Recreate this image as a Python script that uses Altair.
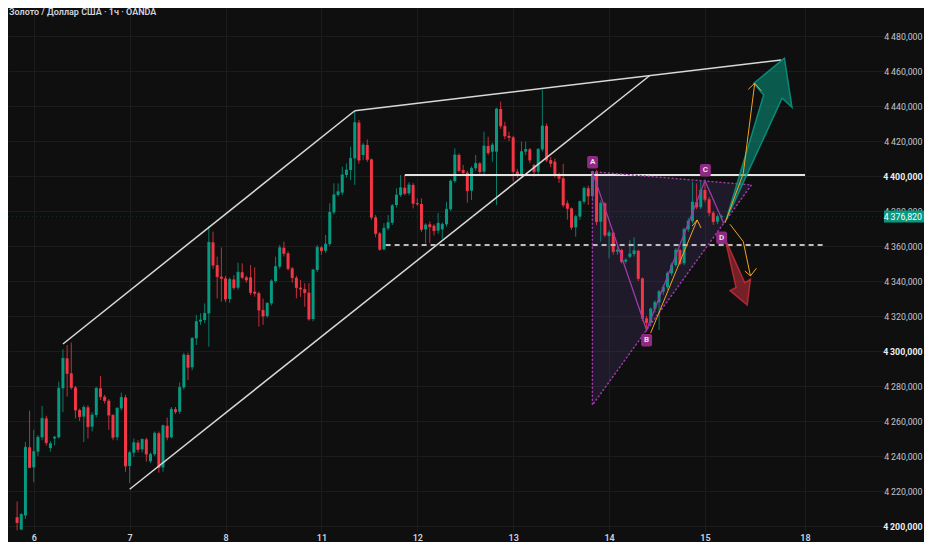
import altair as alt
import pandas as pd

# ---------------- data ----------------
title_text = "Золото / Доллар США · 1ч · OANDA"
day_idx = [0, 23, 46, 69, 92, 115, 138, 161, 185]
day_lbl = ["6", "7", "8", "11", "12", "13", "14", "15", "18"]
price_ticks = [4200, 4220, 4240, 4260, 4280, 4300, 4320, 4340, 4360, 4380,
               4400, 4420, 4440, 4460, 4480]
first_bar = -4

o_ = [4205, 4198, 4206, 4245, 4233.5, 4242.5, 4250.7, 4261.5, 4244.5, 4250,
      4250.7, 4278.7, 4295.8, 4287.2, 4279.2, 4266.3, 4262.5, 4267.8, 4256.8, 4263.4,
      4278.7, 4273.9, 4271.6, 4263.4, 4250.7, 4267.2, 4273.5, 4234.3, 4241.9, 4247.6,
      4243.8, 4249.5, 4237, 4241, 4253, 4233.5, 4257.3, 4250.7, 4266.7, 4265.3,
      4279.2, 4297.7, 4290.7, 4307.2, 4316.8, 4317.7, 4321.5, 4362.1, 4349.1, 4342.5,
      4341.5, 4329.7, 4340.9, 4336.2, 4345, 4342.1, 4342.1, 4333.9, 4333, 4323.4,
      4320, 4327.2, 4340, 4348.2, 4359, 4355.8, 4347.2, 4341.9, 4336.2, 4335.4,
      4333.3, 4318.3, 4346.3, 4359.2, 4357.3, 4361.1, 4379.2, 4389.2, 4390.5, 4400.6,
      4403.4, 4410.1, 4430.5, 4412, 4417.7, 4409.5, 4376.4, 4367.2, 4358.1, 4370.1,
      4373.3, 4383.4, 4389.1, 4393.3, 4390.1, 4394.9, 4384.4, 4384, 4369.5, 4372.4,
      4371.6, 4368.8, 4369.5, 4372.4, 4381, 4397.1, 4412, 4403.4, 4401.9, 4391.6,
      4404.4, 4407.2, 4402.5, 4417.1, 4413.9, 4413.9, 4438.3, 4428.6, 4422.9, 4422.1,
      4402.5, 4400.6, 4413.9, 4415.2, 4406.3, 4402.5, 4415.2, 4428.6, 4409.1, 4408.2,
      4400.6, 4398.7, 4384.4, 4381.5, 4370.7, 4376.8, 4385.3, 4393, 4388.6, 4402.5,
      4373.9, 4384.4, 4365.7, 4367.6, 4356.8, 4357.7, 4351.1, 4353.9, 4355.4, 4357.3,
      4341.5, 4318.7, 4316.2, 4324, 4327.8, 4333.9, 4336.4, 4344.4, 4349.1, 4357.7,
      4350.1, 4369.5, 4374.2, 4385.1, 4382.1, 4392, 4386.7, 4379, 4373.9, 4376.4]
h_ = [4214, 4207.5, 4248, 4266, 4255, 4252, 4268.6, 4263, 4248.5, 4251.5,
      4282.5, 4301, 4303.4, 4304.8, 4280, 4267, 4269, 4269, 4265, 4279.5,
      4285.7, 4275, 4272.5, 4264, 4268, 4276.2, 4275, 4243, 4250, 4249,
      4250, 4250.5, 4242, 4254, 4254, 4258, 4262, 4268, 4268, 4282,
      4299, 4299, 4308, 4320.6, 4321.5, 4327.2, 4371.4, 4368.2, 4353.9, 4359.2,
      4343, 4342, 4343.4, 4350.5, 4350.1, 4343, 4349.1, 4347.8, 4334, 4330,
      4328, 4341, 4353.9, 4360.6, 4362.5, 4357, 4348, 4343, 4340.6, 4338.7,
      4338.7, 4347, 4360.6, 4360, 4366.3, 4384.4, 4395.8, 4395.8, 4405.3, 4407.2,
      4416.8, 4437.3, 4432, 4419, 4420.9, 4410, 4377.7, 4368, 4373, 4377.7,
      4384, 4393, 4400.6, 4400.6, 4396.5, 4396, 4387.2, 4387.2, 4373, 4374,
      4372.5, 4379, 4373.5, 4385.3, 4398, 4415.8, 4413, 4406.3, 4403, 4405.5,
      4412, 4408, 4425.3, 4422.5, 4419, 4439, 4442.5, 4431, 4425.3, 4423,
      4404, 4419.6, 4419.6, 4416, 4407, 4416, 4449.5, 4430, 4411, 4410,
      4402, 4407, 4386, 4382, 4378, 4386, 4394, 4394.5, 4403, 4403.5,
      4386, 4385, 4369, 4368, 4360, 4358.5, 4353, 4363.4, 4365, 4358,
      4342, 4320, 4325, 4329, 4335, 4338, 4345.5, 4350.5, 4359, 4358.5,
      4370.5, 4376, 4396.7, 4395.8, 4397.5, 4397.3, 4388, 4380, 4378, 4378]
l_ = [4197.5, 4197.5, 4204, 4233, 4225, 4240, 4249, 4246, 4242.5, 4246,
      4250, 4265, 4274, 4278, 4261.5, 4260, 4248, 4250, 4254, 4262,
      4272, 4270, 4255, 4249, 4249, 4266, 4231, 4224.4, 4239.6, 4242,
      4242, 4236.8, 4236, 4240, 4230.5, 4231, 4249, 4250, 4264, 4264,
      4278, 4283.4, 4289, 4303.4, 4315, 4316, 4302.5, 4347, 4330.1, 4328.2,
      4328, 4327.6, 4335, 4335, 4341, 4339, 4332, 4331, 4313.9, 4314.9,
      4319, 4326, 4339, 4347, 4354, 4346, 4339, 4330.1, 4331, 4325.3,
      4317.3, 4317, 4345, 4355, 4356, 4360, 4378, 4388.2, 4389, 4399,
      4397.7, 4394.9, 4407, 4409, 4408, 4375, 4365, 4357.3, 4357.5, 4369,
      4372, 4382, 4388, 4389, 4389, 4381.5, 4383, 4368, 4361.5, 4361.5,
      4366, 4367, 4363.8, 4371, 4380, 4396, 4402, 4400, 4384.8, 4386.3,
      4403, 4401, 4401, 4412, 4408.2, 4383.4, 4427, 4421, 4420, 4396.8,
      4399, 4399.5, 4412, 4407.2, 4399.6, 4401, 4414, 4408, 4405, 4399,
      4396, 4382, 4375, 4369.2, 4365.3, 4375, 4384, 4383.4, 4387, 4372,
      4362.5, 4365, 4352.9, 4355, 4355, 4350, 4350, 4353, 4354, 4340,
      4317, 4312, 4314, 4322, 4312, 4332, 4335, 4343, 4348, 4349,
      4349, 4368, 4373, 4381, 4381, 4385, 4377, 4372, 4372.5, 4375]
c_ = [4202, 4206.5, 4245, 4233.5, 4242.5, 4250.7, 4261.5, 4247.6, 4247, 4250.8,
      4278.7, 4295.8, 4287.2, 4279.2, 4266.3, 4262.5, 4267.8, 4256.8, 4263.4, 4278.7,
      4273.9, 4271.6, 4263.4, 4250.7, 4267.2, 4273.5, 4234.3, 4241.9, 4247.6, 4243.8,
      4249.5, 4241.1, 4241, 4253, 4233.5, 4257.3, 4250.7, 4266.7, 4265.3, 4279.2,
      4297.7, 4290.7, 4307.2, 4316.8, 4317.7, 4321.5, 4362.1, 4349.1, 4342.5, 4341.5,
      4329.7, 4340.9, 4336.2, 4345, 4342.1, 4340.6, 4333.5, 4333, 4323.4, 4320,
      4327.2, 4340, 4348.2, 4359, 4355.8, 4347.2, 4341.9, 4336.2, 4335.4, 4333.3,
      4318.3, 4346.3, 4359.2, 4357.3, 4361.1, 4379.2, 4389.2, 4391, 4400.6, 4403.4,
      4410.1, 4430.5, 4409.1, 4417.7, 4409.5, 4376.4, 4367.2, 4358.1, 4370.1, 4373.3,
      4383, 4389.1, 4393.3, 4390.1, 4394.9, 4384.4, 4384, 4369.5, 4372, 4371,
      4368.8, 4373, 4372.4, 4381, 4397.1, 4412, 4403.1, 4401.9, 4391.6, 4404.4,
      4407.2, 4402.5, 4417.1, 4413.3, 4417.7, 4438.3, 4428.6, 4422.9, 4422.1, 4402.5,
      4400.6, 4413.9, 4415.2, 4409.1, 4402.5, 4415.2, 4428.6, 4409.1, 4407.2, 4400.6,
      4398.7, 4383.4, 4381.5, 4370.7, 4376.8, 4385.3, 4393, 4388.6, 4402.5, 4373.9,
      4384.4, 4366.3, 4367.6, 4356.8, 4357.7, 4351.1, 4352, 4355.4, 4357.3, 4341.5,
      4318.7, 4316.2, 4324, 4327.8, 4333.9, 4336.4, 4344.4, 4349.1, 4357.7, 4350.1,
      4369.5, 4374.2, 4385.1, 4382.3, 4392, 4386.7, 4379, 4373.9, 4376.8, 4376.82]

last_price = 4376.82

# drawings (bar index, price)
chan_up_i, chan_up_p = [7, 77], [4304, 4437.3]
chan_lo_i, chan_lo_p = [23, 147.7], [4221, 4457.3]
top_i, top_p = [77, 179.3], [4437.3, 4466.3]
res_i, res_p = [89, 185], [4400.6, 4400.6]
sup_i, sup_p = [84.4, 190.1], [4360.6, 4360.6]

tri_i = [134, 172.15]
tri_top = [4402.5, 4394.9]
tri_bot = [4269.1, 4394.9]
tri_edge_i = [134, 172.15, 134, 134]
tri_edge_p = [4402.5, 4394.9, 4269.1, 4402.5]

abcd_i = [134, 147, 161, 165.5]
abcd_p = [4402.5, 4312, 4397.3, 4373]
lbl_i = [134.05, 147.0, 161.1, 165.0]
lbl_p = [4407.9, 4306.1, 4403.3, 4364.7]
lbl_t = ["A", "B", "C", "D"]

or1_i, or1_p = [147.97, 159.12], [4310.3, 4374.9]
or1h_i, or1h_p = [157.93, 159.12, 160.06], [4371.4, 4374.9, 4370.3]
or2_i, or2_p = [165.83, 170.19, 172.94], [4373.3, 4401.5, 4453.0]
or2h_i, or2h_p = [171.38, 172.94, 174.53], [4449.5, 4453.0, 4448.7]
or3_i, or3_p = [167.01, 170.19, 171.92], [4372.4, 4362.5, 4342.9]
or3h_i, or3h_p = [170.57, 171.92, 173.35], [4345.7, 4342.9, 4347.3]

garrow_i = [166.07, 175.08, 172.71, 180.06, 181.88, 179.5]
garrow_p = [4374.9, 4446.3, 4453.0, 4467.3, 4439.3, 4444.4]
rarrow_i = [165.76, 168.44, 167.0, 171.14, 171.92, 170.57]
rarrow_p = [4364.6, 4336.4, 4334.5, 4326.3, 4341.0, 4339.0]

# ---------------- style ----------------
BG = "#0f0f0f"
GRID = "#1c1c1c"
UP = "#089981"
DOWN = "#f23645"
WHITE = "#d9d9d9"
PURPLE = "#9c3ba6"
ORANGE = "#f7a21b"
LBL = "#8f2a82"
FONT = "Roboto"
W, H = 875, 523

xs = alt.Scale(domain=[-4.98, 202.51], nice=False, zero=False)
ys = alt.Scale(domain=[4197.143, 4496.0], nice=False, zero=False)

x_expr = " : ".join(f"datum.value == {v} ? '{t}'" for v, t in zip(day_idx, day_lbl)) + " : ''"
xaxis = alt.Axis(values=day_idx, labelExpr=x_expr, title=None, orient="bottom",
                 domain=False, ticks=False, grid=True, gridColor=GRID, gridWidth=1,
                 labelColor="#d1d4dc", labelFont=FONT, labelFontSize=9, labelFontWeight=600,
                 labelPadding=2, labelFlush=False, labelOverlap=False, labelBound=False)
y_expr = "replace(replace(format(datum.value, ',.3f'), ',', '\u2009'), '.', ',')"
yaxis = alt.Axis(values=price_ticks, labelExpr=y_expr, title=None, orient="right",
                 domain=False, ticks=False, grid=True, gridColor=GRID, gridWidth=1,
                 labelAlign="right", labelPadding=39, labelFont=FONT, labelFontSize=8.8,
                 labelBaseline="middle", labelOverlap=False,
                 labelFontWeight={"expr": "datum.value % 100 === 0 ? 'bold' : 'normal'"},
                 labelColor={"expr": "datum.value % 100 === 0 ? '#eceef2' : '#c3c6ce'"})


def X(f):
    return alt.X(f, type="quantitative", scale=xs, axis=xaxis)


def Y(f):
    return alt.Y(f, type="quantitative", scale=ys, axis=yaxis)


bars = pd.DataFrame({"i": list(range(first_bar, first_bar + len(o_))),
                     "o": o_, "h": h_, "l": l_, "c": c_})
bars["dir"] = ["up" if c >= o else "down" for o, c in zip(bars.o, bars.c)]
col = alt.Color("dir:N", scale=alt.Scale(domain=["up", "down"], range=[UP, DOWN]), legend=None)

wicks = alt.Chart(bars).mark_rule(strokeWidth=1, opacity=0.8).encode(
    x=X("i"), y=Y("l"), y2="h", color=col)
bodies = alt.Chart(bars).mark_bar(size=3).encode(x=X("i"), y=Y("o"), y2="c", color=col)
closes = alt.Chart(bars).mark_tick(orient="horizontal", size=3, thickness=1).encode(
    x=X("i"), y=Y("c"), color=col)


def path(ii, pp, **mk):
    df = pd.DataFrame({"i": ii, "p": pp, "k": list(range(len(ii)))})
    return alt.Chart(df).mark_line(**mk).encode(x=X("i"), y=Y("p"), order="k:Q")


tri_df = pd.DataFrame({"i": tri_i, "top": tri_top, "bot": tri_bot})
tri_fill = alt.Chart(tri_df).mark_area(color="#6a4ba0", opacity=0.18).encode(
    x=X("i"), y=Y("top"), y2="bot")

tri_dots = path(tri_edge_i, tri_edge_p, color=PURPLE, strokeWidth=1.5,
                strokeDash=[1, 3], strokeCap="round")
abcd = path(abcd_i, abcd_p, color=PURPLE, strokeWidth=1.3)

lines = [
    path(chan_up_i, chan_up_p, color=WHITE, strokeWidth=1.5),
    path(chan_lo_i, chan_lo_p, color=WHITE, strokeWidth=1.5),
    path(top_i, top_p, color=WHITE, strokeWidth=1.5),
    path(res_i, res_p, color="#e3e3e3", strokeWidth=2),
    path(sup_i, sup_p, color="#bdbdbd", strokeWidth=2, strokeDash=[5, 4]),
]

g_arrow = path(garrow_i, garrow_p, interpolate="linear-closed", fill=UP, fillOpacity=0.55,
               stroke=UP, strokeOpacity=0.85, strokeWidth=1.5)
r_arrow = path(rarrow_i, rarrow_p, interpolate="linear-closed", fill=DOWN, fillOpacity=0.45,
               stroke=DOWN, strokeOpacity=0.6, strokeWidth=1.5)

oranges = [path(a, b, color=ORANGE, strokeWidth=1) for a, b in
           [(or1_i, or1_p), (or1h_i, or1h_p), (or2_i, or2_p), (or2h_i, or2h_p),
            (or3_i, or3_p), (or3h_i, or3h_p)]]

lbl_df = pd.DataFrame({"i": lbl_i, "p": lbl_p, "t": lbl_t})
RR = ("M-0.56,-1 L0.56,-1 Q0.88,-1 0.88,-0.68 L0.88,0.68 Q0.88,1 0.56,1 "
      "L-0.56,1 Q-0.88,1 -0.88,0.68 L-0.88,-0.68 Q-0.88,-1 -0.56,-1 Z")
lbl_box = alt.Chart(lbl_df).mark_point(shape=RR, size=156, filled=True, fill=LBL,
                                       opacity=1, strokeWidth=0).encode(x=X("i"), y=Y("p"))
lbl_txt = alt.Chart(lbl_df).mark_text(font=FONT, fontSize=8, fontWeight="bold",
                                      color="#ecdff0", baseline="middle").encode(
    x=X("i"), y=Y("p"), text="t:N")

price_df = pd.DataFrame({"p": [last_price]})
price_line = alt.Chart(price_df).mark_rule(color=UP, strokeDash=[1, 3], opacity=0.25).encode(
    x=alt.value(0), x2=alt.value(W), y=Y("p"))
BOX = "M-1,-0.3 L1,-0.3 L1,0.3 L-1,0.3 Z"
price_box = alt.Chart(price_df).mark_point(shape=BOX, size=1600, filled=True, fill=UP,
                                           opacity=1, strokeWidth=0).encode(
    x=alt.value(W + 21), y=Y("p"))
price_txt = alt.Chart(price_df).transform_calculate(
    t="replace(replace(format(datum.p, ',.3f'), ',', '\u2009'), '.', ',')"
).mark_text(font=FONT, fontSize=8.8, color="#ffffff", align="right", baseline="middle").encode(
    x=alt.value(W + 39), y=Y("p"), text="t:N")

title_df = pd.DataFrame({"t": [title_text]})
title = alt.Chart(title_df).mark_text(font=FONT, fontSize=9, fontWeight=600, color="#d1d4dc",
                                      align="left", baseline="middle").encode(
    x=alt.value(1), y=alt.value(4), text="t:N")

chart = alt.layer(
    tri_fill, wicks, bodies, closes, *lines, tri_dots, abcd, g_arrow, r_arrow,
    *oranges, lbl_box, lbl_txt, price_line, price_box, price_txt, title
).properties(
    width=W, height=H, background=BG,
    padding={"left": 0, "top": 0, "right": 41, "bottom": 11},
    autosize=alt.AutoSizeParams(type="none"),
).configure_view(stroke=None, fill=BG)

chart.save("out.html", embed_options={"renderer": "svg", "actions": False})
